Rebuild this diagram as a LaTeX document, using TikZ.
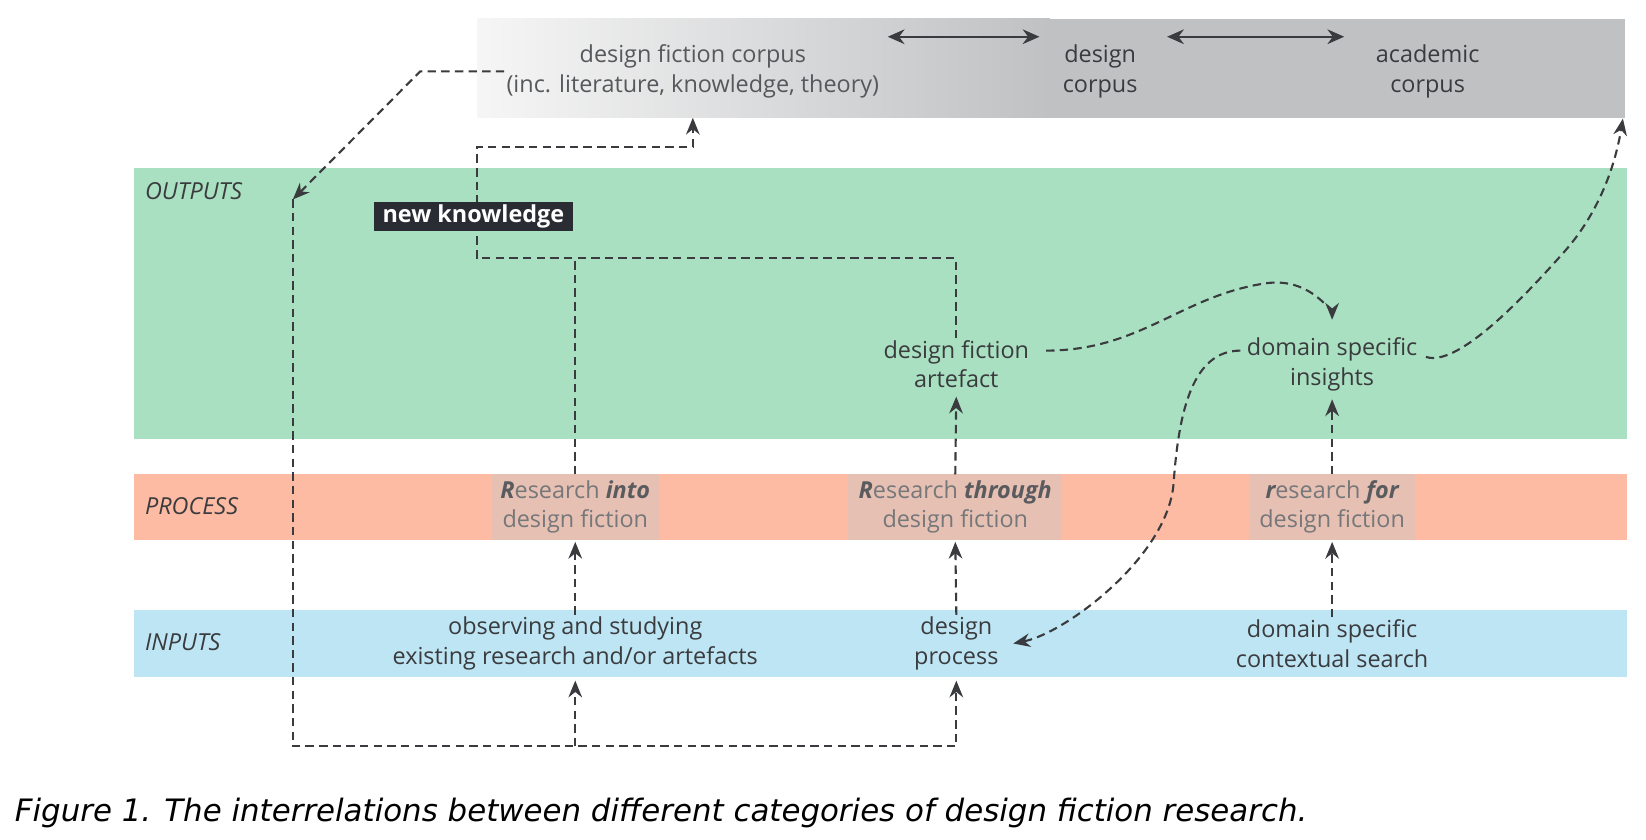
\documentclass[tikz,border=0pt]{standalone}
\usepackage{fontspec}
\setmainfont{Open Sans}
\newfontfamily\capfont{DejaVu Sans}
\usetikzlibrary{arrows.meta,calc}

\definecolor{outgreen}{HTML}{A9E0C1}
\definecolor{procred}{HTML}{FDBBA4}
\definecolor{procbox}{HTML}{E6C0B2}
\definecolor{inblue}{HTML}{BEE5F3}
\definecolor{corpgray}{HTML}{C0C1C3}
\definecolor{ink}{HTML}{3A3B3E}
\definecolor{procink}{HTML}{76777A}
\definecolor{procbold}{HTML}{5A5B5E}
\definecolor{nkbox}{HTML}{2A2C33}

\tikzset{
  lbl/.style={font=\fontsize{22.3}{28}\selectfont, text=ink, align=center, inner sep=2pt},
  bandlbl/.style={font=\fontsize{22.3}{24}\selectfont\itshape, text=ink, anchor=west, inner sep=0pt},
  procnode/.style={lbl, fill=procbox, text=procink, minimum height=62, inner sep=0pt},
  link/.style={draw=ink, line width=2pt, dash pattern=on 8pt off 5pt},
  flow/.style={link, -{Stealth[length=16pt,width=13pt]}},
  corpusarrow/.style={draw=ink, line width=2pt, {Stealth[length=16pt,width=14pt]}-{Stealth[length=16pt,width=14pt]}},
}
\newcommand{\pb}[1]{{\color{procbold}\bfseries\itshape #1}}

\begin{document}
\begin{tikzpicture}[x=1pt, y=-1pt]
  \useasboundingbox (0,0) rectangle (1568,800);

  % bands
  \shade[left color=corpgray!15, right color=corpgray] (455,18) rectangle (1000,112);
  \fill[corpgray] (999,18) rectangle (1548,112);
  \fill[outgreen] (128,160) rectangle (1550,418);
  \fill[procred] (128,452) rectangle (1550,514);
  \fill[inblue] (128,581) rectangle (1550,645);

  \node[bandlbl] (outl) at (138,182) {OUTPUTS};
  \node[bandlbl] (procl) at (138,482) {PROCESS};
  \node[bandlbl] (inl) at (138,612) {INPUTS};

  % corpus
  \node[lbl, text=ink!85, minimum height=88] (dfc) at (660,68) {design fiction corpus\\(inc. literature, knowledge, theory)};
  \node[lbl] (dc) at (1048,68) {design\\corpus};
  \node[lbl] (ac) at (1360,68) {academic\\corpus};
  \draw[corpusarrow] ($(dfc.east)+(6,-33)$) -- ($(dc.west)+(-20,-33)$);
  \draw[corpusarrow] ($(dc.east)+(26,-33)$) -- ($(ac.west)+(-28,-33)$);
  \coordinate (acin) at (1546,113);

  % process
  \node[procnode, minimum width=159] (pinto) at (548,483) {\pb{R}esearch \pb{into}\\design fiction};
  \node[procnode, minimum width=204] (pthrough) at (910,483) {\pb{R}esearch \pb{through}\\design fiction};
  \node[procnode, minimum width=158] (pfor) at (1269,483) {\pb{r}esearch \pb{for}\\design fiction};

  % inputs
  \node[lbl] (iobs) at (548,613) {observing and studying\\existing research and/or artefacts};
  \node[lbl] (idp) at (911,613) {design\\process};
  \node[lbl] (idom) at (1269,613) {domain specific\\contextual search};

  % outputs
  \node[lbl] (oart) at (911,347) {design fiction\\artefact};
  \node[lbl] (oins) at (1269,347) {domain specific\\insights};

  \foreach \a/\b in {iobs/pinto, idp/pthrough, idom/pfor}
    \draw[flow, shorten >=2pt] (\a.north) -- (\b.south);
  \draw[flow, shorten >=6pt] (pthrough.north) -- (oart.south);
  \draw[flow, shorten >=6pt] (pfor.north) -- (oins.south);

  % feedback loop
  \coordinate (turn) at (279,190);
  \coordinate (floor) at (279,711);
  \draw[flow] (dfc.west) -- ++(-80,0) -- (turn);
  \draw[flow, shorten >=8pt] (turn) -- (floor) -| (idp.south);
  \draw[flow, shorten >=8pt] (iobs.south |- floor) -- (iobs.south);

  % new knowledge
  \coordinate (nkcorner) at (454,246);
  \draw[flow] (oart.north) |- (nkcorner) -- (nkcorner |- 0,140) -| (dfc.south);
  \draw[link] (pinto.north) -- (pinto.north |- nkcorner);

  % curves
  \draw[flow, shorten >=15pt] ($(oart.east)+(14,-13)$) .. controls +(90,0) and +(-80,12) .. (1205,270)
    .. controls +(45,-7) and +(0,-18) .. (oins.north);
  \draw[flow] ($(oins.west)+(-4,-13)$) .. controls +(-45,0) and +(5,-70) .. (1118,460)
    .. controls +(-5,70) and +(50,-10) .. ($(idp.east)+(12,0)$);
  \draw[flow] ($(oins.east)+(6,-7)$) .. controls +(30,10) and +(-40,45) .. (1490,240)
    .. controls +(40,-45) and +(-5,30) .. (acin);

  \node[fill=nkbox, text=white, font=\fontsize{22.3}{24}\selectfont\bfseries, minimum width=189, minimum height=28, inner sep=0pt] (nk) at (451,206) {new knowledge};

  % caption
  \node[anchor=base west, font=\capfont\itshape\fontsize{29.4}{32}\selectfont, text=black, inner sep=0pt] (cap) at (14,783) {Figure 1. The interrelations between different categories of design fiction research.};
\end{tikzpicture}
\end{document}
